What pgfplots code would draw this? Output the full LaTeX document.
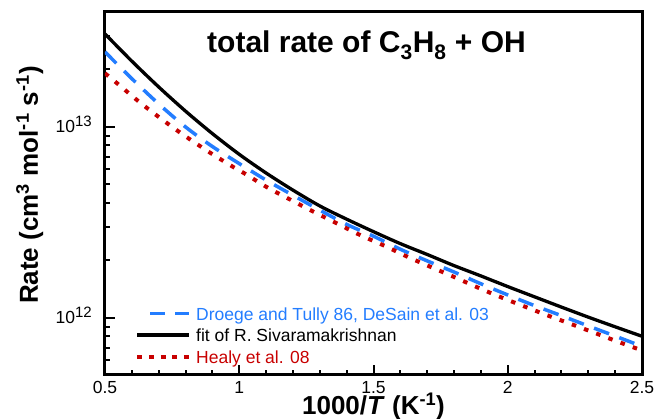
\documentclass[border=0pt]{standalone}
\usepackage{pgfplots}
\pgfplotsset{compat=1.18}
\usepackage{fontspec}
\setmainfont{Liberation Sans}
\definecolor{cblue}{RGB}{35,125,255}
\definecolor{cred}{RGB}{200,0,0}
\newcommand{\lstrut}{\rule[-3bp]{0pt}{18bp}}
\newcommand{\tsup}[1]{\raisebox{6.5bp}{\fontsize{15bp}{15bp}\selectfont #1}}
\newcommand{\tl}[1]{\mbox{\fontsize{17.5bp}{20bp}\selectfont #1}}

\pgfplotstableread{
x k
0.5 3.07e13
0.6 2.21e13
0.7 1.62e13
0.8 1.21e13
0.9 9.23e12
1.0 7.19e12
1.1 5.74e12
1.2 4.67e12
1.3 3.86e12
1.4 3.29e12
1.5 2.83e12
1.6 2.45e12
1.7 2.15e12
1.8 1.88e12
1.9 1.66e12
2.0 1.46e12
2.1 1.29e12
2.2 1.14e12
2.3 1.01e12
2.4 8.99e11
2.5 8.02e11
}\blackfit

\pgfplotstableread{
x k
0.5 2.47e13
0.6 1.79e13
0.7 1.32e13
0.8 1.00e13
0.9 7.90e12
1.0 6.43e12
1.1 5.27e12
1.2 4.39e12
1.3 3.67e12
1.4 3.09e12
1.5 2.68e12
1.6 2.29e12
1.7 1.99e12
1.8 1.74e12
1.9 1.51e12
2.0 1.32e12
2.1 1.16e12
2.2 1.028e12
2.3 9.08e11
2.4 8.04e11
2.5 7.10e11
}\bluedata

\pgfplotstableread{
x k
0.500 1.91e13
0.537 1.73e13
0.628 1.35e13
0.668 1.22e13
0.757 9.84e12
0.798 8.97e12
0.885 7.43e12
0.976 6.19e12
1.018 5.73e12
1.104 4.83e12
1.192 4.15e12
1.278 3.59e12
1.365 3.12e12
1.452 2.71e12
1.543 2.38e12
1.630 2.08e12
1.717 1.84e12
1.804 1.63e12
1.890 1.44e12
1.977 1.28e12
2.064 1.146e12
2.151 1.028e12
2.238 9.27e11
2.327 8.32e11
2.414 7.48e11
2.500 6.76e11
}\reddata

\begin{document}
\begin{tikzpicture}
\begin{axis}[
  scale only axis, width=537bp, height=363bp,
  ymode=log,
  xmin=0.5, xmax=2.5, ymin=5.03e11, ymax=4.0e13,
  /pgf/number format/assume math mode=true,
  axis line style={line width=3bp},
  tick align=inside,
  tick pos=left,
  xtick={0.5,1,1.5,2,2.5},
  xticklabels={\tl{0.5},\tl{1},\tl{1.5},\tl{2},\tl{2.5}},
  minor xtick={0.6,0.7,0.8,0.9,1.1,1.2,1.3,1.4,1.6,1.7,1.8,1.9,2.1,2.2,2.3,2.4},
  ytick={1e12,1e13},
  yticklabel={\pgfmathparse{int(round(\tick/ln(10)))}\tl{10\tsup{\pgfmathresult}}},
  minor ytick={6e11,7e11,8e11,9e11,2e12,3e12,4e12,5e12,6e12,7e12,8e12,9e12,2e13,3e13},
  major tick length=10bp, minor tick length=5bp,
  tick style={line width=2bp, black},
  tick label style={font=\fontsize{17.5bp}{20bp}\selectfont, inner sep=0pt},
  xticklabel style={anchor=north, yshift=-6.5bp},
  yticklabel style={anchor=base east, xshift=-13bp, yshift=-6bp},
  xlabel={1000/\textit{T} (K\textsuperscript{-1})},
  ylabel={Rate (cm\textsuperscript{3} mol\textsuperscript{-1} s\textsuperscript{-1})},
  label style={font=\bfseries\fontsize{26bp}{30bp}\selectfont},
  xlabel style={at={(axis description cs:0.5,-0.1102)}, anchor=base},
  ylabel style={at={(axis description cs:-0.1248,0.523)}, anchor=base},
  legend cell align=left,
  legend style={at={(axis description cs:0,0)}, anchor=south west,
    xshift=30bp, yshift=10bp, draw=none, fill=none, inner sep=0pt,
    row sep=5bp, column sep=5bp,
    font=\fontsize{17.5bp}{20bp}\selectfont,
    nodes={inner sep=0pt}},
]
\addplot[cblue, line width=3.5bp, dash pattern=on 16bp off 11bp, smooth,
  legend image code/.code={\path[draw=none, fill=none] (0bp,-3bp) rectangle (52bp,3bp);
    \draw[cblue, line width=3.5bp, dash pattern=on 15bp off 10bp] (13bp,0bp) -- (52bp,0bp);}]
  table[x=x, y=k] {\bluedata};
\addlegendentry{\lstrut\textcolor{cblue}{Droege and Tully 86, DeSain et al. 03}}
\addplot[black, line width=3.3bp, smooth,
  legend image code/.code={\path[draw=none, fill=none] (0bp,-3bp) rectangle (52bp,3bp);
    \draw[black, line width=3.3bp] (0bp,0bp) -- (52bp,0bp);}]
  table[x=x, y=k] {\blackfit};
\addlegendentry{\lstrut fit of R. Sivaramakrishnan}
\addplot[cred, line width=4bp, dash pattern=on 4.5bp off 8.5bp, smooth,
  legend image code/.code={\path[draw=none, fill=none] (0bp,-3bp) rectangle (52bp,3bp);
    \draw[cred, line width=4bp, dash pattern=on 5bp off 6.7bp] (0bp,0bp) -- (52bp,0bp);}]
  table[x=x, y=k] {\reddata};
\addlegendentry{\lstrut\textcolor{cred}{Healy et al. 08}}
\node[font=\bfseries\fontsize{30bp}{34bp}\selectfont, anchor=base]
  at (axis description cs:0.487,0.887) {total rate of C\textsubscript{3}H\textsubscript{8} + OH};
\end{axis}
\pgfresetboundingbox
\path (current axis.south west) ++(-105bp,-44bp) rectangle ++(658bp,419bp);
\end{tikzpicture}
\end{document}
